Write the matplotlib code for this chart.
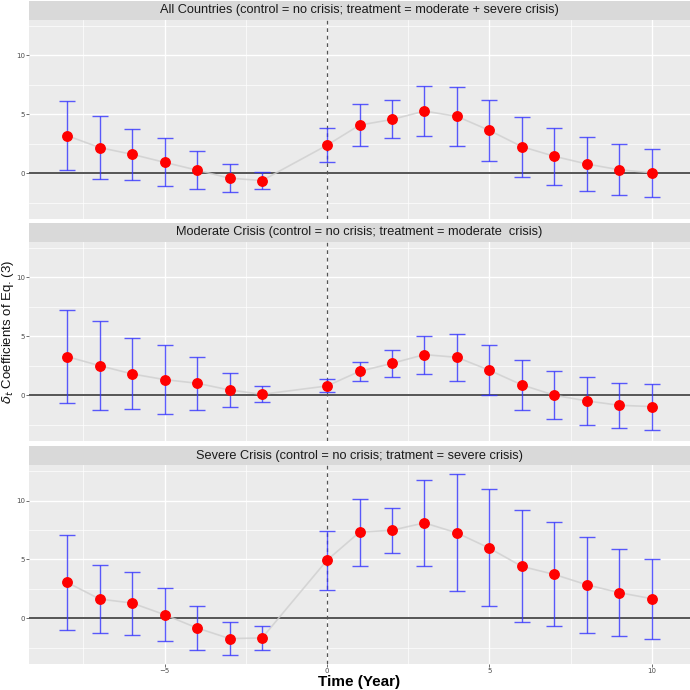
import numpy as np
import matplotlib.pyplot as plt

# event time (years relative to crisis)
years = [-8, -7, -6, -5, -4, -3, -2, 0, 1, 2, 3, 4, 5, 6, 7, 8, 9, 10]

titles = ["All Countries (control = no crisis; treatment = moderate + severe crisis)",
          "Moderate Crisis (control = no crisis; treatment = moderate  crisis)",
          "Severe Crisis (control = no crisis; tratment = severe crisis)"]

# coefficients and confidence bounds, per panel
all_coef = [3.20, 2.19, 1.62, 0.94, 0.28, -0.40, -0.60, 2.39, 4.09, 4.57, 5.28, 4.83, 3.64, 2.27, 1.45, 0.80, 0.31, 0.06]
all_up = [6.14, 4.83, 3.78, 3.01, 1.90, 0.77, 0.09, 3.86, 5.88, 6.22, 7.41, 7.33, 6.25, 4.77, 3.86, 3.10, 2.50, 2.10]
all_low = [0.28, -0.43, -0.54, -1.08, -1.34, -1.59, -1.34, 0.94, 2.33, 2.98, 3.15, 2.30, 1.05, -0.26, -0.97, -1.51, -1.85, -1.99]

mod_coef = [3.28, 2.51, 1.81, 1.33, 1.02, 0.45, 0.08, 0.79, 2.03, 2.71, 3.45, 3.22, 2.12, 0.88, 0.00, -0.48, -0.85, -0.96]
mod_up = [7.26, 6.33, 4.86, 4.27, 3.28, 1.89, 0.76, 1.36, 2.82, 3.87, 5.03, 5.17, 4.24, 2.97, 2.03, 1.53, 1.07, 0.99]
mod_low = [-0.68, -1.24, -1.16, -1.58, -1.24, -0.99, -0.56, 0.25, 1.19, 1.55, 1.84, 1.24, 0.00, -1.21, -2.03, -2.51, -2.80, -2.94]

sev_coef = [3.05, 1.64, 1.30, 0.31, -0.82, -1.72, -1.67, 4.94, 7.32, 7.49, 8.11, 7.26, 5.96, 4.41, 3.73, 2.85, 2.18, 1.67]
sev_up = [7.09, 4.55, 3.98, 2.57, 1.05, -0.34, -0.62, 7.46, 10.11, 9.41, 11.78, 12.26, 10.96, 9.18, 8.16, 6.95, 5.90, 5.06]
sev_low = [-1.02, -1.24, -1.41, -1.89, -2.66, -3.11, -2.68, 2.43, 4.49, 5.59, 4.44, 2.32, 1.05, -0.34, -0.68, -1.24, -1.53, -1.72]

panels = [(all_coef, all_up, all_low), (mod_coef, mod_up, mod_low), (sev_coef, sev_up, sev_low)]

W = 690.0
fig = plt.figure(figsize=(6.9, 6.9), dpi=100)

# pixel layout (top, bottom) of strips and panels
strips = [(1, 19.5), (222.7, 241.7), (446, 465)]
boxes = [(19.5, 219.3), (241.7, 441), (465, 664)]
left, right = 29, 690

x = np.array(years)
for i, (coef, up, low) in enumerate(panels):
    st, sb = strips[i]
    sax = fig.add_axes([left / W, 1 - sb / W, (right - left) / W, (sb - st) / W])
    sax.set_facecolor("#D9D9D9")
    sax.set_xticks([]); sax.set_yticks([])
    for s in sax.spines.values():
        s.set_visible(False)
    sax.text(0.5, 0.5, titles[i], ha="center", va="center", fontsize=9.2,
             color="#1A1A1A", family="Liberation Sans", transform=sax.transAxes)

    pt, pb = boxes[i]
    ax = fig.add_axes([left / W, 1 - pb / W, (right - left) / W, (pb - pt) / W])
    ax.set_facecolor("#EBEBEB")
    for s in ax.spines.values():
        s.set_visible(False)
    ax.set_xlim(-9.175, 11.175)
    ax.set_ylim(-3.88, 13.03)
    ax.set_xticks([-5, 0, 5, 10])
    ax.set_xticks([-7.5, -2.5, 2.5, 7.5], minor=True)
    ax.set_yticks([0, 5, 10])
    ax.set_yticks([-2.5, 2.5, 7.5, 12.5], minor=True)
    ax.grid(which="major", color="white", lw=1.0)
    ax.grid(which="minor", color="white", lw=0.5)
    ax.set_axisbelow(True)
    ax.tick_params(which="major", length=2, width=0.5, color="#333333",
                   labelsize=5, labelcolor="#4D4D4D", pad=1)
    ax.tick_params(which="minor", length=0)
    if i < 2:
        ax.tick_params(axis="x", labelbottom=False, length=0)

    ax.axhline(0, color="#555555", lw=1.4, zorder=2)
    ax.axvline(0, color="#555555", lw=0.9, ls=(0, (3, 3)), zorder=2)
    ax.plot(x, coef, color="#CFCFCF", lw=1.2, alpha=0.8, zorder=3)
    c = np.array(coef)
    ax.errorbar(x, c, yerr=[c - np.array(low), np.array(up) - c], fmt="none",
                ecolor="#3333FF", elinewidth=1.0, capsize=6, capthick=1.0,
                alpha=0.8, zorder=4)
    ax.plot(x, coef, "o", color="#FF0000", ms=6.8, zorder=5)

fig.text(8.5 / W, 1 - 332 / W, r"$\delta_t$ Coefficients of Eq. (3)", rotation=90,
         ha="center", va="center", fontsize=9.5, color="#111111", family="Liberation Sans")
fig.text((left + right) / 2 / W, 1 - 682 / W, "Time (Year)", ha="center", va="center",
         fontsize=11, fontweight="bold", family="Liberation Sans")

plt.savefig("out.png", dpi=100)
